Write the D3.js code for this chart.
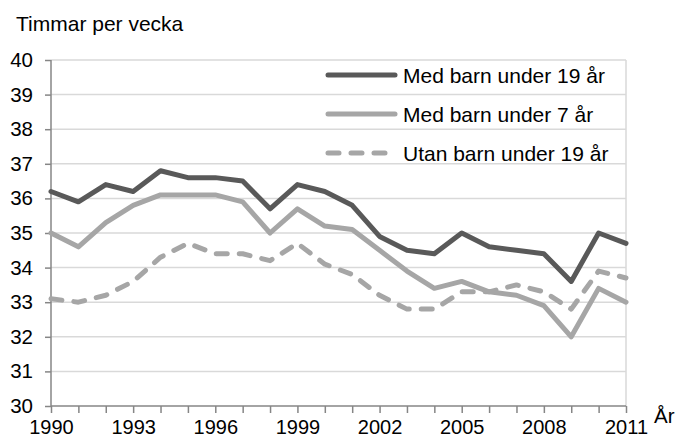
<!DOCTYPE html>
<html><head><meta charset="utf-8">
<script src="https://cdn.jsdelivr.net/npm/d3@7"></script>
<style>body{margin:0;background:#fff}svg text{font-family:"Liberation Sans",Arial,sans-serif;fill:#000}</style>
</head><body><svg id="c" width="678" height="440"></svg>
<script>
const years = d3.range(1990, 2012);
const xTickLabels = [1990, 1993, 1996, 1999, 2002, 2005, 2008, 2011];
const yTicks = [30, 31, 32, 33, 34, 35, 36, 37, 38, 39, 40];
const medBarn19 = [36.2, 35.9, 36.4, 36.2, 36.8, 36.6, 36.6, 36.5, 35.7, 36.4, 36.2, 35.8, 34.9, 34.5, 34.4, 35.0, 34.6, 34.5, 34.4, 33.6, 35.0, 34.7];
const medBarn7 = [35.0, 34.6, 35.3, 35.8, 36.1, 36.1, 36.1, 35.9, 35.0, 35.7, 35.2, 35.1, 34.5, 33.9, 33.4, 33.6, 33.3, 33.2, 32.9, 32.0, 33.4, 33.0];
const utanBarn = [33.1, 33.0, 33.2, 33.6, 34.3, 34.7, 34.4, 34.4, 34.2, 34.7, 34.1, 33.8, 33.2, 32.8, 32.8, 33.3, 33.3, 33.5, 33.3, 32.8, 33.9, 33.7];
const seriesNames = ["Med barn under 19 år", "Med barn under 7 år", "Utan barn under 19 år"];
const yTitle = "Timmar per vecka";
const xTitle = "År";

const series = [
  {name: seriesNames[0], values: medBarn19, color: "#595959", dash: null},
  {name: seriesNames[1], values: medBarn7, color: "#a6a6a6", dash: null},
  {name: seriesNames[2], values: utanBarn, color: "#a6a6a6", dash: "11,12"}
];

const svg = d3.select("#c");
const L = 51, R = 626, T = 60, B = 406;
const x = d3.scaleLinear().domain([1990, 2011]).range([L, R]);
const y = d3.scaleLinear().domain([30, 40]).range([B, T]);

// gridlines
svg.append("g").selectAll("line").data(yTicks.slice(1)).join("line")
  .attr("x1", L).attr("x2", R).attr("y1", d => y(d)).attr("y2", d => y(d))
  .attr("stroke", "#d9d9d9").attr("stroke-width", 1.5);
// right border
svg.append("line").attr("x1", R).attr("x2", R).attr("y1", T).attr("y2", B)
  .attr("stroke", "#d9d9d9").attr("stroke-width", 1.5);

// y axis
const yAxis = svg.append("g").attr("transform", `translate(${L},0)`)
  .call(d3.axisLeft(y).tickValues(yTicks).tickFormat(d3.format("d")).tickSize(6).tickPadding(12));
yAxis.select(".domain").attr("stroke", "#868686").attr("stroke-width", 1.5).attr("d", `M0,${T}V${B}`);
yAxis.selectAll(".tick line").attr("stroke", "#868686").attr("stroke-width", 1.5);
yAxis.selectAll(".tick text").attr("font-size", 20.5).attr("fill", "#000");

// x axis
const xAxis = svg.append("g").attr("transform", `translate(0,${B})`)
  .call(d3.axisBottom(x).tickValues(years).tickSize(7).tickFormat(d => xTickLabels.includes(d) ? d : "").tickPadding(7));
xAxis.select(".domain").attr("stroke", "#868686").attr("stroke-width", 1.5).attr("d", `M${L},0H${R}`);
xAxis.selectAll(".tick line").attr("stroke", "#868686").attr("stroke-width", 1.5);
xAxis.selectAll(".tick text").attr("font-size", 20).attr("fill", "#000");

// lines
const line = d3.line().x((d, i) => x(years[i])).y(d => y(d));
svg.append("g").selectAll("path").data(series.slice().reverse()).join("path")
  .attr("d", d => line(d.values)).attr("fill", "none")
  .attr("stroke", d => d.color).attr("stroke-width", 5)
  .attr("stroke-linejoin", "round").attr("stroke-linecap", "round")
  .attr("stroke-dasharray", d => d.dash);

// legend
const lg = svg.append("g").selectAll("g").data(series).join("g")
  .attr("transform", (d, i) => `translate(0,${75 + i * 39})`);
lg.append("line").attr("x1", 328).attr("x2", 395).attr("y1", 0).attr("y2", 0)
  .attr("stroke", d => d.color).attr("stroke-width", 5).attr("stroke-linecap", "round")
  .attr("stroke-dasharray", d => d.dash);
lg.append("text").attr("x", 403).attr("y", 7.5).attr("font-size", 21).text(d => d.name);

svg.append("text").attr("x", 16).attr("y", 31).attr("font-size", 21).text(yTitle);
svg.append("text").attr("x", 654).attr("y", 423).attr("font-size", 20.5).text(xTitle);
</script></body></html>
